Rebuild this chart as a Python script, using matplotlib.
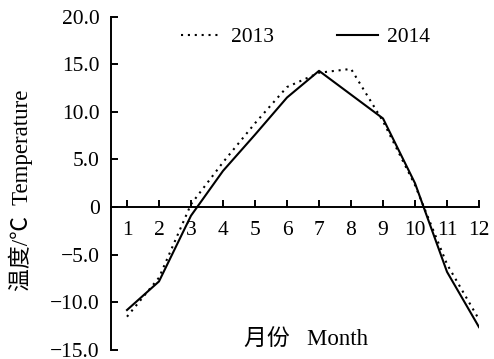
import matplotlib
matplotlib.use('Agg')
import matplotlib.pyplot as plt

plt.rcParams['font.family'] = ['Liberation Serif', 'Noto Sans CJK SC']
plt.rcParams['font.size'] = 15.5

months = list(range(1, 13))
temp_2013 = [-11.5, -7.4, 0.3, 4.7, 8.8, 12.6, 14.1, 14.5, 9.0, 2.3, -6.0, -11.8]
temp_2014 = [-10.8, -7.8, -0.9, 3.8, 7.6, 11.5, 14.3, 11.8, 9.3, 2.5, -6.8, -12.6]
y_ticks = [-15, -10, -5, 0, 5, 10, 15, 20]
y_tick_labels = ['\u221215.0', '\u221210.0', '\u22125.0', '0', '5.0', '10.0', '15.0', '20.0']

fig = plt.figure(figsize=(4.94, 3.59), dpi=100)
ax = fig.add_axes([0.2247, 0.025, 0.745, 0.929])

ax.plot(months, temp_2013, color='black', lw=1.5, linestyle=(0, (1, 2.3)), label='2013')
ax.plot(months, temp_2014, color='black', lw=1.5, label='2014')

ax.set_xlim(0.5, 12)
ax.set_ylim(-15, 20)

# axes: left spine full height, bottom spine through zero
ax.spines['top'].set_visible(False)
ax.spines['right'].set_visible(False)
ax.spines['bottom'].set_position(('data', 0))
ax.spines['left'].set_linewidth(1.4)
ax.spines['bottom'].set_linewidth(1.4)

ax.set_xticks(months)
ax.set_xticklabels([str(m) for m in months])
ax.set_yticks(y_ticks)
ax.set_yticklabels(y_tick_labels)
ax.tick_params(axis='x', direction='in', length=5, width=1.4, pad=10)
ax.tick_params(axis='y', direction='in', length=5, width=1.4, pad=8)

ax.set_ylabel('温度/℃  Temperature', fontsize=16.5, labelpad=12, y=0.48)
ax.text(0.53, 0.03, '月份   Month', transform=ax.transAxes, ha='center', va='center',
        fontsize=16.5)

ax.legend(ncol=2, frameon=False, loc='upper left', bbox_to_anchor=(0.16, 1.0),
          handlelength=1.9, handletextpad=0.45, columnspacing=2.9, borderpad=0)

fig.savefig('out.png', dpi=100)
